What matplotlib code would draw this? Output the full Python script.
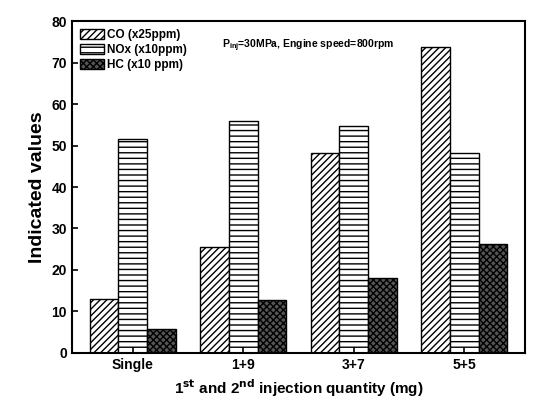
import matplotlib
matplotlib.use("Agg")
import matplotlib.pyplot as plt
import numpy as np

categories = ["Single", "1+9", "3+7", "5+5"]
co = [13.0, 25.5, 48.3, 73.8]
nox = [51.5, 56.0, 54.8, 48.2]
hc = [5.7, 12.8, 18.0, 26.3]

plt.rcParams['font.family'] = ['Liberation Sans', 'DejaVu Sans']
plt.rcParams['hatch.linewidth'] = 1.0
fig = plt.figure(figsize=(5.37, 4.07), dpi=100)
ax = fig.add_axes([0.134, 0.133, 0.844, 0.815])
x = np.arange(len(categories))
w = 0.26
ax.bar(x - w, co, w, facecolor='white', edgecolor='black', hatch='/////', label='CO (x25ppm)')
ax.bar(x, nox, w, facecolor='white', edgecolor='black', hatch='---', label='NOx (x10ppm)')
ax.bar(x + w, hc, w, facecolor='#555555', edgecolor='black', hatch='xxxxx', label='HC (x10 ppm)')
ax.set_xlim(-0.55, 3.55)
ax.set_ylim(0, 80)
ax.set_yticks(range(0, 81, 10))
ax.set_xticks(x)
ax.set_xticklabels(categories, fontweight='bold', fontsize=10)
for t in ax.get_yticklabels():
    t.set_fontweight('bold'); t.set_fontsize(10)
ax.tick_params(direction='in', width=1.2, length=4)
for s in ax.spines.values():
    s.set_linewidth(1.5)
ax.set_ylabel('Indicated values', fontsize=14, fontweight='bold')
ax.set_xlabel(r'1$^{\mathbf{st}}$ and 2$^{\mathbf{nd}}$ injection quantity (mg)', fontsize=11, fontweight='bold')
ax.legend(loc='upper left', frameon=False, prop={'weight': 'bold', 'size': 8.5},
          handlelength=2.0, handleheight=0.9, labelspacing=0.25, borderaxespad=0.3, handletextpad=0.3)
ax.text(0.33, 0.95, r'P$_{\mathregular{inj}}$=30MPa, Engine speed=800rpm', transform=ax.transAxes,
        fontsize=7.5, fontweight='bold', va='top')
fig.savefig('out.png', dpi=100)
